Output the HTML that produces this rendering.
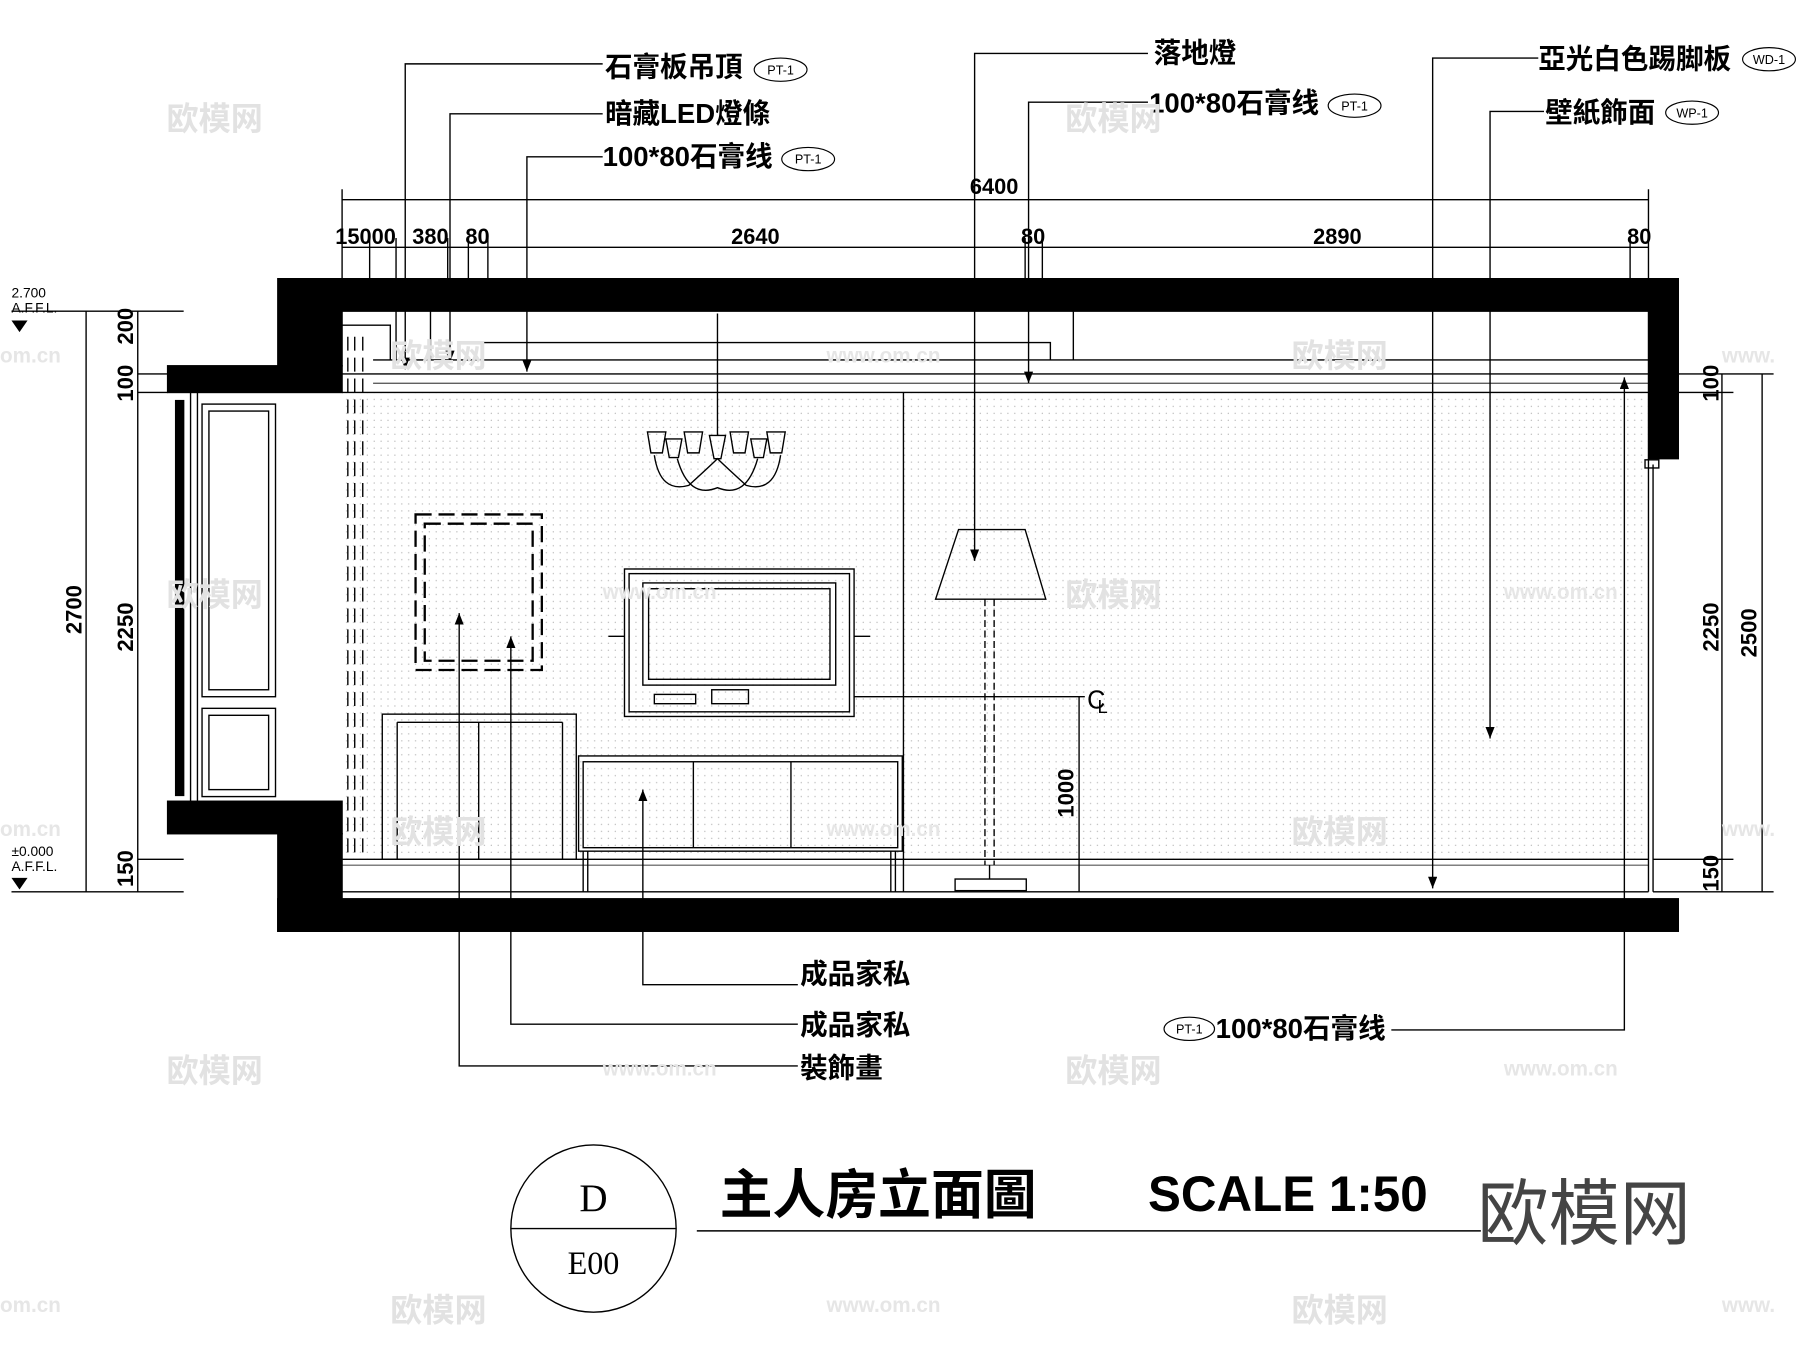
<!DOCTYPE html>
<html><head><meta charset="utf-8"><style>
html,body{margin:0;padding:0;background:#fff;}
svg{display:block;}
text{font-family:"Liberation Sans","Noto Sans CJK SC",sans-serif;fill:#000;}
.l{font-size:24px;font-weight:bold;}
.d{font-size:19px;font-weight:bold;}
.wm{font-size:28px;fill:#e2e2e2;font-weight:bold;}
.wm2{font-size:18px;fill:#e6e6e6;font-weight:bold;}
</style></head><body>
<svg width="1800" height="1347" viewBox="0 0 1568 1160" preserveAspectRatio="none" xmlns="http://www.w3.org/2000/svg">
<defs>
<pattern id="dots" width="6" height="6" patternUnits="userSpaceOnUse"><circle cx="2" cy="2" r="0.6" fill="#bbb"/></pattern>
<marker id="ar" markerWidth="10" markerHeight="8" refX="10" refY="4" orient="auto" markerUnits="userSpaceOnUse"><path d="M0,0 L10,4 L0,8z" fill="#000"/></marker>
</defs>
<g stroke="#000" fill="none" stroke-width="1.2">
<rect x="298" y="338" width="1138" height="402" fill="url(#dots)" stroke="none"/>
<path d="M242,240 H1462 V395 H1436 V268 H298 V315 H242z" fill="#000"/>
<rect x="146" y="315" width="152" height="23" fill="#000"/>
<rect x="146" y="690" width="152" height="28" fill="#000"/>
<rect x="242" y="718" width="56" height="84" fill="#000"/>
<rect x="242" y="774" width="1220" height="28" fill="#000"/>
<line x1="298" y1="322" x2="1436" y2="322"/><line x1="298" y1="338" x2="1436" y2="338"/>
<line x1="325" y1="330" x2="1436" y2="330" stroke-width="0.8"/>
<path d="M325,310 H935 M345,268 V310 M375,268 V310 M375,310 H425 M408,295 H915 V310 M935,268 V310 M935,310 H1436"/>
<path d="M298,280 H340 V310"/>
<line x1="166" y1="338" x2="166" y2="690"/><line x1="172" y1="338" x2="172" y2="690"/>
<rect x="153" y="345" width="7" height="340" fill="#000"/>
<rect x="176" y="348" width="64" height="252"/><rect x="182" y="354" width="52" height="240"/>
<rect x="176" y="610" width="64" height="76"/><rect x="182" y="616" width="52" height="64"/>
<g stroke-dasharray="12,6"><line x1="303" y1="290" x2="303" y2="740"/><line x1="309" y1="290" x2="309" y2="740"/><line x1="316" y1="290" x2="316" y2="740"/></g>
<line x1="298" y1="740" x2="1436" y2="740"/><line x1="298" y1="768" x2="1436" y2="768"/><line x1="298" y1="745" x2="1436" y2="745" stroke-width="0.6"/>
<line x1="1436" y1="395" x2="1436" y2="768"/><line x1="1440" y1="400" x2="1440" y2="768"/><rect x="1433" y="396" width="12" height="7"/>
<line x1="787" y1="338" x2="787" y2="768"/>
<line x1="625" y1="270" x2="625" y2="375"/>
<path d="M618,375 H632 L628,395 H622z M564,372h16l-3,18h-10z M596,372h16l-3,18h-10z M636,372h16l-3,18h-10z M668,372h16l-3,18h-10z M580,378h14l-3,16h-8z M654,378h14l-3,16h-8z"/>
<path d="M570,392 Q575,425 600,418 Q620,400 625,395 Q630,400 650,418 Q675,425 680,392 M590,395 Q600,430 625,420 Q650,430 660,395"/>
<rect x="362" y="443" width="110" height="134" stroke-dasharray="14,6" stroke-width="2"/>
<rect x="370" y="451" width="94" height="118" stroke-dasharray="14,6" stroke-width="2"/>
<rect x="544" y="490" width="200" height="127"/><rect x="548" y="494" width="192" height="119"/>
<rect x="560" y="502" width="168" height="88"/><rect x="565" y="507" width="158" height="78"/>
<rect x="570" y="598" width="36" height="8"/><rect x="620" y="594" width="32" height="12"/>
<path d="M530,548 H544 M744,548 H758"/>
<rect x="333" y="615" width="169" height="125"/><line x1="346" y1="622" x2="346" y2="740"/><line x1="417" y1="622" x2="417" y2="740"/><line x1="490" y1="622" x2="490" y2="740"/><line x1="346" y1="622" x2="490" y2="622"/>
<rect x="504" y="651" width="282" height="82"/><rect x="508" y="656" width="274" height="74"/>
<line x1="604" y1="656" x2="604" y2="730"/><line x1="689" y1="656" x2="689" y2="730"/>
<path d="M508,733 V768 M512,733 V768 M776,733 V768 M780,733 V768"/>
<path d="M835,456 H893 L911,516 H815z"/>
<path d="M858,516 V745 M866,516 V745" stroke-dasharray="6,3"/>
<line x1="862" y1="745" x2="862" y2="757"/>
<rect x="832" y="757" width="62" height="10"/>
<line x1="744" y1="600" x2="945" y2="600"/><line x1="940" y1="600" x2="940" y2="768"/>
<line x1="298" y1="172" x2="1436" y2="172"/>
<line x1="298" y1="213" x2="1436" y2="213"/>
<path d="M298,163 V268 M1436,163 V238 M322,205 V268 M345,205 V268 M390,205 V268 M408,205 V268 M425,205 V268 M893,205 V268 M908,205 V268 M1420,205 V268 M1436,205 V268"/>
<path d="M75,268 V768 M120,268 V768 M10,268 H160 M10,768 H160 M120,322 H146 M120,338 H146 M120,740 H160"/>
<path d="M1500,322 V768 M1535,322 V768 M1440,322 H1545 M1440,338 H1510 M1440,740 H1510 M1440,768 H1545"/>
<path d="M525,55 H353 V318" marker-end="url(#ar)"/>
<path d="M525,98 H392 V312" marker-end="url(#ar)"/>
<path d="M525,135 H459 V320" marker-end="url(#ar)"/>
<path d="M1000,46 H849 V483" marker-end="url(#ar)"/>
<path d="M1000,88 H896 V330" marker-end="url(#ar)"/>
<path d="M1340,50 H1248 V765" marker-end="url(#ar)"/>
<path d="M1345,96 H1298 V636" marker-end="url(#ar)"/>
<path d="M695,848 H560 V680" marker-end="url(#ar)"/>
<path d="M695,882 H445 V548" marker-end="url(#ar)"/>
<path d="M695,918 H400 V528" marker-end="url(#ar)"/>
<path d="M1212,887 H1415 V325" marker-end="url(#ar)"/>
<circle cx="517" cy="1058" r="72"/><line x1="445" y1="1058" x2="589" y2="1058"/>
<line x1="607" y1="1060" x2="1290" y2="1060"/>
</g>
<path d="M10,276 h14 l-7,10z M10,756 h14 l-7,10z" fill="#000"/>
<g fill="none" stroke="#000">
<ellipse cx="680" cy="60" rx="23" ry="10"/><ellipse cx="704" cy="137" rx="23" ry="10"/><ellipse cx="1180" cy="91" rx="23" ry="10"/><ellipse cx="1541" cy="51" rx="23" ry="10"/><ellipse cx="1474" cy="97" rx="23" ry="10"/><ellipse cx="1036" cy="886" rx="22" ry="10"/>
</g>
<g text-anchor="middle">
<text x="680" y="64" font-size="11">PT-1</text><text x="704" y="141" font-size="11">PT-1</text><text x="1180" y="95" font-size="11">PT-1</text><text x="1541" y="55" font-size="11">WD-1</text><text x="1474" y="101" font-size="11">WP-1</text><text x="1036" y="890" font-size="11">PT-1</text>
</g>
<text x="527" y="66" class="l">石膏板吊頂</text>
<text x="527" y="106" class="l">暗藏LED燈條</text>
<text x="525" y="143" class="l">100*80石膏线</text>
<text x="1005" y="54" class="l">落地燈</text>
<text x="1001" y="97" class="l">100*80石膏线</text>
<text x="1340" y="59" class="l">亞光白色踢脚板</text>
<text x="1346" y="105" class="l">壁紙飾面</text>
<text x="697" y="847" class="l">成品家私</text>
<text x="697" y="891" class="l">成品家私</text>
<text x="697" y="928" class="l">裝飾畫</text>
<text x="1059" y="894" class="l">100*80石膏线</text>
<text x="866" y="167" text-anchor="middle" class="d">6400</text>
<text x="292" y="210" class="d">15000</text>
<text x="375" y="210" text-anchor="middle" class="d">380</text>
<text x="416" y="210" text-anchor="middle" class="d">80</text>
<text x="658" y="210" text-anchor="middle" class="d">2640</text>
<text x="900" y="210" text-anchor="middle" class="d">80</text>
<text x="1165" y="210" text-anchor="middle" class="d">2890</text>
<text x="1428" y="210" text-anchor="middle" class="d">80</text>
<text transform="translate(71,525) rotate(-90)" text-anchor="middle" class="d">2700</text>
<text transform="translate(116,281) rotate(-90)" text-anchor="middle" class="d">200</text>
<text transform="translate(116,330) rotate(-90)" text-anchor="middle" class="d">100</text>
<text transform="translate(116,540) rotate(-90)" text-anchor="middle" class="d">2250</text>
<text transform="translate(116,748) rotate(-90)" text-anchor="middle" class="d">150</text>
<text transform="translate(1497,330) rotate(-90)" text-anchor="middle" class="d">100</text>
<text transform="translate(1497,540) rotate(-90)" text-anchor="middle" class="d">2250</text>
<text transform="translate(1497,752) rotate(-90)" text-anchor="middle" class="d">150</text>
<text transform="translate(1530,545) rotate(-90)" text-anchor="middle" class="d">2500</text>
<text transform="translate(935,683) rotate(-90)" text-anchor="middle" class="d">1000</text>
<text x="947" y="610" font-size="22">C</text><text x="956" y="614" font-size="16">L</text>
<g font-size="12">
<text x="10" y="256">2.700</text><text x="10" y="269">A.F.F.L.</text>
<text x="10" y="737">±0.000</text><text x="10" y="750">A.F.F.L.</text>
</g>
<text x="517" y="1043" text-anchor="middle" font-size="34" style="font-family:'Liberation Serif',serif">D</text>
<text x="517" y="1097" text-anchor="middle" font-size="28" style="font-family:'Liberation Serif',serif">E00</text>
<text x="627" y="1045" font-size="46" font-weight="bold">主人房立面圖</text>
<text x="1000" y="1043" font-size="43" font-weight="bold">SCALE 1:50</text>
<text x="1287" y="1067" font-size="62" style="fill:#444">欧模网</text>
<g>
<text x="145" y="112" class="wm">欧模网</text><text x="928" y="112" class="wm">欧模网</text>
<text x="340" y="316" class="wm">欧模网</text><text x="1125" y="316" class="wm">欧模网</text>
<text x="145" y="522" class="wm">欧模网</text><text x="928" y="522" class="wm">欧模网</text>
<text x="340" y="726" class="wm">欧模网</text><text x="1125" y="726" class="wm">欧模网</text>
<text x="145" y="932" class="wm">欧模网</text><text x="928" y="932" class="wm">欧模网</text>
<text x="340" y="1138" class="wm">欧模网</text><text x="1125" y="1138" class="wm">欧模网</text>
<text x="0" y="312" class="wm2">om.cn</text><text x="0" y="720" class="wm2">om.cn</text><text x="0" y="1130" class="wm2">om.cn</text>
<text x="720" y="312" class="wm2">www.om.cn</text><text x="1500" y="312" class="wm2">www.</text>
<text x="525" y="516" class="wm2">www.om.cn</text><text x="1310" y="516" class="wm2">www.om.cn</text>
<text x="720" y="720" class="wm2">www.om.cn</text><text x="1500" y="720" class="wm2">www.</text>
<text x="525" y="926" class="wm2">www.om.cn</text><text x="1310" y="926" class="wm2">www.om.cn</text>
<text x="720" y="1130" class="wm2">www.om.cn</text><text x="1500" y="1130" class="wm2">www.</text>
</g>
</svg>
</body></html>
